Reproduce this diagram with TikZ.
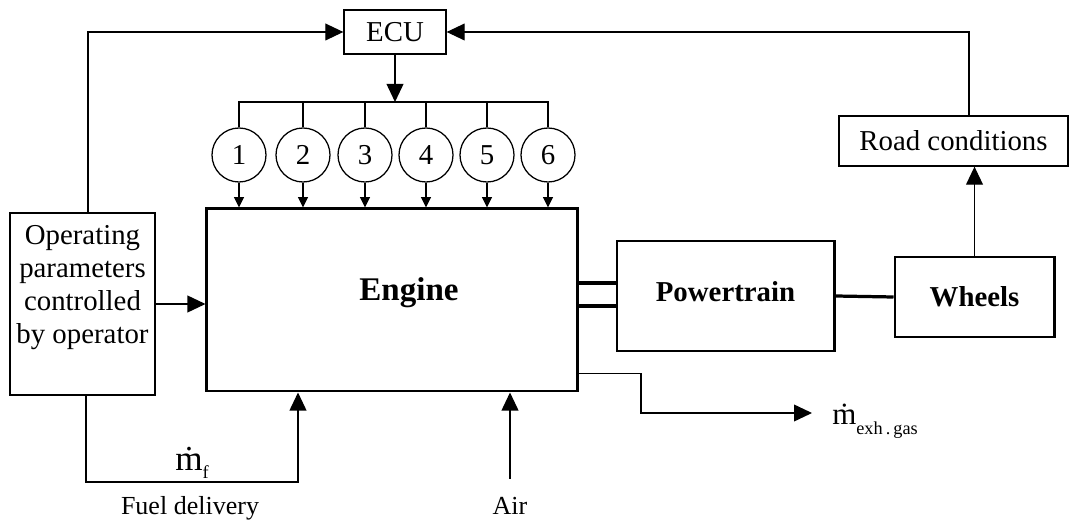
\documentclass[tikz,border=0pt]{standalone}
\usepackage{fontspec}
\setmainfont{Liberation Serif}
\usetikzlibrary{arrows.meta, positioning}
\newcommand{\fnorm}{\fontsize{20.5}{23.5}\selectfont}
\newcommand{\fsmall}{\fontsize{18.5}{21}\selectfont}
\newcommand{\fbig}{\fontsize{23.5}{27}\selectfont\bfseries}
\newcommand{\fbold}{\fontsize{20.5}{23}\selectfont\bfseries}
\newcommand{\fsub}{\fontsize{13}{14}\selectfont}
\tikzset{
  bx/.style={rectangle, draw, line width=0.9pt, font=\fnorm, inner sep=0pt},
  tbx/.style={rectangle, draw, line width=2.1pt, font=\fbold, inner sep=0pt},
  inj/.style={circle, draw, line width=0.9pt, minimum size=1.35cm,
              inner sep=0pt, font=\fnorm},
  arr/.style={-{Triangle[length=0.45cm,width=0.42cm]}, line width=0.9pt},
  sarr/.style={-{Triangle[length=0.26cm,width=0.25cm]}, line width=0.9pt},
  ln/.style={line width=0.9pt},
  shaft/.style={line width=2.3pt},
  lbl/.style={inner sep=0pt},
}

\begin{document}
\begin{tikzpicture}[x=0.025cm, y=-0.025cm]
  \useasboundingbox (0,0) rectangle (1071,523);
  % ── Nodes ──────────────────────────────────────────────────────────────────
  \node[bx, minimum width=2.55cm, minimum height=1.1cm] at (395,32) (ecu) {ECU};
  \foreach \x [count=\i] in {239,303,365,426,487,548}
    \node[inj] at (\x,155) (c\i) {\i};
  \node[tbx, minimum width=9.25cm, minimum height=4.55cm] at (392,300) (engine) {};
  \node[lbl, font=\fbig] at (409,293) (englbl) {Engine};
  \node[bx, minimum width=3.625cm, minimum height=4.55cm] at (82.5,304) (op) {};
  \node[font=\fnorm, align=center, anchor=north] at ([yshift=-0.2cm]op.north) (optxt)
       {Operating\\parameters\\controlled\\by operator};
  \node[tbx, minimum width=5.425cm, minimum height=2.75cm] at (725.5,296) (pt)
       {\raisebox{0.2cm}{Powertrain}};
  \node[tbx, minimum width=3.975cm, minimum height=2cm]    at (974.5,297) (wh) {Wheels};
  \node[bx, minimum width=5.725cm, minimum height=1.25cm]  at (953.5,141) (road) {Road conditions};

  % ── Labels ─────────────────────────────────────────────────────────────────
  \node[lbl, font=\fontsize{25}{28}\selectfont, anchor=base west] at (175,471) (mf)
       {\.{m}\raisebox{-0.2em}{\fsub f}};
  \node[lbl, font=\fontsize{22}{25}\selectfont, anchor=base west] at (832,425) (mexh)
       {\.{m}\raisebox{-0.3em}{\fsub exh\,.\,gas}};
  \node[lbl, font=\fsmall, anchor=base] at (190,515) (fuellbl) {Fuel delivery};
  \node[lbl, font=\fsmall, anchor=base] at (510,515) (airlbl)  {Air};

  % ── Helper points ──────────────────────────────────────────────────────────
  \coordinate (bus)    at (395,102);
  \coordinate (fuel)   at (298,482);
  \coordinate (airin)  at (510,479);
  \coordinate (bend)   at (641,413);
  \coordinate (exhtip) at (812,413);
  \coordinate (sh1) at ([yshift=0.325cm]pt.west);
  \coordinate (sh2) at ([yshift=-0.25cm]pt.west);

  % ── Arrows ─────────────────────────────────────────────────────────────────
  \draw[arr] ([xshift=0.14cm]op.north) |- (ecu.west);
  \draw[arr] ([xshift=0.39cm]road.north) |- (ecu.east);
  \draw[arr] (ecu.south) -- (bus);
  \draw[ln] (c1.north) |- (bus) -| (c6.north);
  \foreach \i in {2,...,5}
    \draw[ln] (c\i.north) -- (c\i.north |- bus);
  \foreach \i in {1,...,6}
    \draw[sarr] (c\i.south) -- (c\i.south |- engine.north);
  \draw[arr] (op.east) -- (op.east -| engine.west);
  \draw[arr] ([xshift=0.09cm]op.south) |- (fuel) -- (fuel |- engine.south);
  \draw[arr] (airin) -- (airin |- engine.south);
  \draw[arr] ([yshift=0.475cm]engine.south east) -| (bend) -- (exhtip);
  \draw[shaft] (sh1) -- (sh1 -| engine.east);
  \draw[shaft] (sh2) -- (sh2 -| engine.east);
  \draw[shaft] (pt.east) -- (wh.west);
  \draw[arr] (wh.north) -- (wh.north |- road.south);
\end{tikzpicture}
\end{document}
